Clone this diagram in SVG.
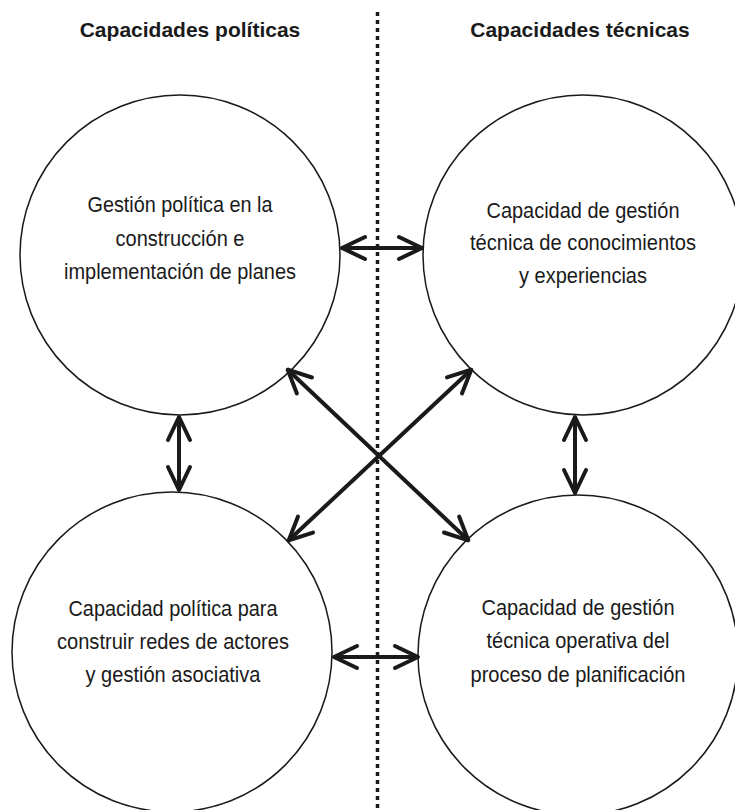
<svg xmlns="http://www.w3.org/2000/svg" width="735" height="810" viewBox="0 0 735 810">
<style>
.title{font-family:"Liberation Sans",Arial,sans-serif;font-weight:bold;font-size:21px;fill:#1a1a1a;text-anchor:middle}
.lbl{font-family:"Liberation Sans",Arial,sans-serif;font-size:22px;fill:#1a1a1a;text-anchor:middle}
.circ{fill:none;stroke:#1a1a1a;stroke-width:1.5}
.arr{fill:none;stroke:#1a1a1a;stroke-width:4;marker-start:url(#head);marker-end:url(#head)}
.div{fill:none;stroke:#1a1a1a;stroke-width:3.5;stroke-dasharray:4 4}
</style>
<defs>
<marker id="head" markerUnits="userSpaceOnUse" markerWidth="40" markerHeight="40" viewBox="-30 -20 40 40" refX="0" refY="0" orient="auto-start-reverse" overflow="visible">
<path d="M-24,-11 L-1,0 L-24,11" fill="none" stroke="#1a1a1a" stroke-width="4" stroke-linecap="round" stroke-linejoin="round"/>
</marker>
</defs>
<rect width="735" height="810" fill="#ffffff"/>
<line class="div" x1="377.5" y1="12" x2="377.5" y2="810"/>
<text class="title" x="190" y="37">Capacidades políticas</text>
<text class="title" x="580" y="37">Capacidades técnicas</text>
<g id="node-tl">
<circle class="circ" cx="180" cy="255" r="160"/>
<text class="lbl" x="180" y="212" textLength="185" lengthAdjust="spacingAndGlyphs">Gestión política en la</text>
<text class="lbl" x="180" y="246" textLength="129" lengthAdjust="spacingAndGlyphs">construcción e</text>
<text class="lbl" x="180" y="279" textLength="232" lengthAdjust="spacingAndGlyphs">implementación de planes</text>
</g>
<g id="node-tr">
<circle class="circ" cx="583" cy="255" r="160"/>
<text class="lbl" x="583" y="218" textLength="193" lengthAdjust="spacingAndGlyphs">Capacidad de gestión</text>
<text class="lbl" x="583" y="250" textLength="226" lengthAdjust="spacingAndGlyphs">técnica de conocimientos</text>
<text class="lbl" x="583" y="283" textLength="128" lengthAdjust="spacingAndGlyphs">y experiencias</text>
</g>
<g id="node-bl">
<circle class="circ" cx="172" cy="652" r="160"/>
<text class="lbl" x="173" y="616" textLength="209" lengthAdjust="spacingAndGlyphs">Capacidad política para</text>
<text class="lbl" x="173" y="649" textLength="232" lengthAdjust="spacingAndGlyphs">construir redes de actores</text>
<text class="lbl" x="173" y="682" textLength="175" lengthAdjust="spacingAndGlyphs">y gestión asociativa</text>
</g>
<g id="node-br">
<circle class="circ" cx="578" cy="655" r="160"/>
<text class="lbl" x="578" y="615" textLength="193" lengthAdjust="spacingAndGlyphs">Capacidad de gestión</text>
<text class="lbl" x="578" y="648" textLength="183" lengthAdjust="spacingAndGlyphs">técnica operativa del</text>
<text class="lbl" x="578" y="682" textLength="215" lengthAdjust="spacingAndGlyphs">proceso de planificación</text>
</g>
<g id="connectors">
<line class="arr" x1="341" y1="248" x2="423" y2="248"/>
<line class="arr" x1="333" y1="657" x2="419" y2="657"/>
<line class="arr" x1="179" y1="416" x2="179" y2="491"/>
<line class="arr" x1="575" y1="416" x2="575" y2="494"/>
<line class="arr" x1="287" y1="369" x2="469" y2="541"/>
<line class="arr" x1="472" y1="369" x2="288" y2="541"/>
</g>
</svg>
